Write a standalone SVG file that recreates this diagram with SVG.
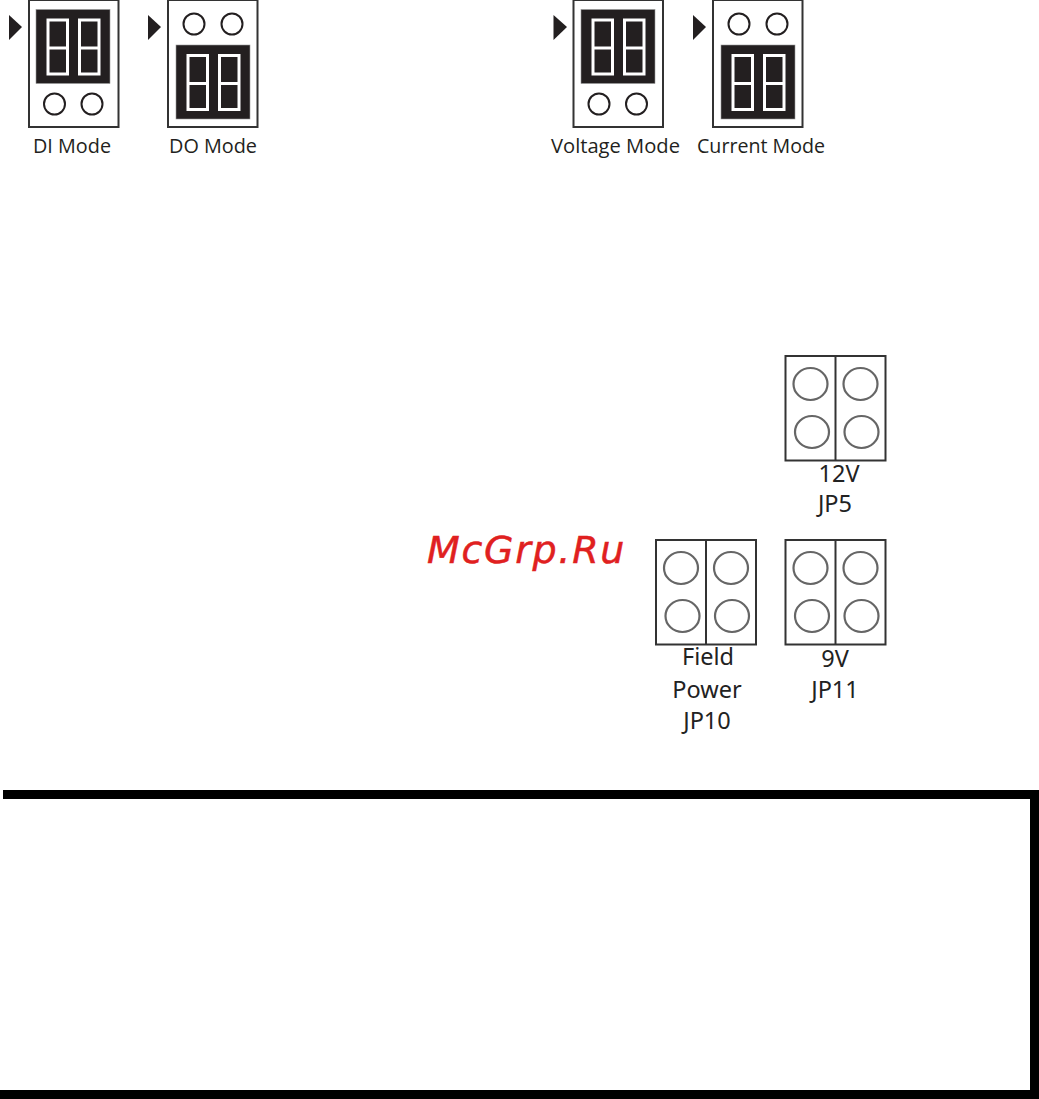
<svg xmlns="http://www.w3.org/2000/svg" xmlns:xlink="http://www.w3.org/1999/xlink" width="1039" height="1099" viewBox="0 0 1039 1099">
<style>
.box{fill:#fff;stroke:#333;stroke-width:2}
.pin{fill:#fff;stroke:#231f20;stroke-width:2}
.blk{fill:#231f20;stroke:#999;stroke-width:.6}
.win{fill:#231f20;stroke:#fff;stroke-width:3}
.bar{stroke:#fff;stroke-width:3}
.tri{fill:#231f20}
.m{font-family:"Open Sans","Noto Sans",sans-serif;font-size:20.500px;fill:#231f20;text-anchor:middle}
.j{font-family:"Noto Sans","Open Sans",sans-serif;font-size:23.500px;fill:#222;text-anchor:middle}
.jb{fill:#fff;stroke:#333;stroke-width:2}
.jp{fill:#fff;stroke:#666;stroke-width:2.2}
</style>
<defs>
<g id="block">
<rect class="blk" x="0" y="0" width="74" height="74"/>
<rect class="win" x="12" y="10.500" width="19.500" height="54"/>
<rect class="win" x="43.500" y="10.500" width="19.500" height="54"/>
<path class="bar" d="M12 38.500H31.500M43.500 38.500H63"/>
</g>
<g id="jumper">
<rect class="jb" x="0" y="0" width="100" height="104.500"/>
<path class="jb" d="M50 0V104.500"/>
<ellipse class="jp" cx="25" cy="28" rx="17" ry="16"/>
<ellipse class="jp" cx="75" cy="28" rx="17" ry="16"/>
<ellipse class="jp" cx="26.500" cy="76" rx="17" ry="16"/>
<ellipse class="jp" cx="76" cy="76" rx="17" ry="16"/>
</g>
</defs>
<g id="di-mode">
<path class="tri" d="M9 15L22 27L9 40Z"/>
<rect class="box" x="29" y="0" width="89.500" height="127"/>
<use xlink:href="#block" href="#block" x="36" y="9.500"/>
<circle class="pin" cx="54.500" cy="104" r="10.500"/>
<circle class="pin" cx="92" cy="104" r="10.500"/>
<text class="m" x="72" y="153" textLength="78" lengthAdjust="spacingAndGlyphs">DI Mode</text>
</g>
<g id="do-mode">
<path class="tri" d="M148 15L161 27L148 40Z"/>
<rect class="box" x="168" y="0" width="89.500" height="127"/>
<circle class="pin" cx="194" cy="24" r="10.500"/>
<circle class="pin" cx="232" cy="24" r="10.500"/>
<use xlink:href="#block" href="#block" x="176" y="45"/>
<text class="m" x="213" y="153" textLength="88" lengthAdjust="spacingAndGlyphs">DO Mode</text>
</g>
<g id="voltage-mode">
<path class="tri" d="M553.500 15L567 27L553.500 40Z"/>
<rect class="box" x="573.500" y="0" width="89.500" height="127"/>
<use xlink:href="#block" href="#block" x="581" y="9.500"/>
<circle class="pin" cx="599" cy="104" r="10.500"/>
<circle class="pin" cx="636.500" cy="104" r="10.500"/>
<text class="m" x="615.500" y="153" textLength="129" lengthAdjust="spacingAndGlyphs">Voltage Mode</text>
</g>
<g id="current-mode">
<path class="tri" d="M693 15L706 27L693 40Z"/>
<rect class="box" x="713" y="0" width="89.500" height="127"/>
<circle class="pin" cx="739" cy="24" r="10.500"/>
<circle class="pin" cx="777" cy="24" r="10.500"/>
<use xlink:href="#block" href="#block" x="721" y="45"/>
<text class="m" x="761" y="153" textLength="128" lengthAdjust="spacingAndGlyphs">Current Mode</text>
</g>
<g id="jp5">
<use xlink:href="#jumper" href="#jumper" x="785.500" y="356"/>
<text class="j" x="839" y="482">12V</text>
<text class="j" x="835" y="512">JP5</text>
</g>
<g id="jp10">
<use xlink:href="#jumper" href="#jumper" x="656" y="540"/>
<text class="j" x="708" y="665">Field</text>
<text class="j" x="707" y="698">Power</text>
<text class="j" x="707" y="729">JP10</text>
</g>
<g id="jp11">
<use xlink:href="#jumper" href="#jumper" x="785.500" y="540"/>
<text class="j" x="835" y="667">9V</text>
<text class="j" x="835" y="698">JP11</text>
</g>
<text id="watermark" x="427" y="563" font-family="DejaVu Sans" font-style="oblique" font-size="38" letter-spacing="1.700" fill="#e02020" stroke="#e02020" stroke-width=".5">McGrp.Ru</text>
<g id="frame">
<path d="M3 794.500H1034.500V1094.500H0" fill="none" stroke="#000" stroke-width="9"/>
</g>
</svg>
